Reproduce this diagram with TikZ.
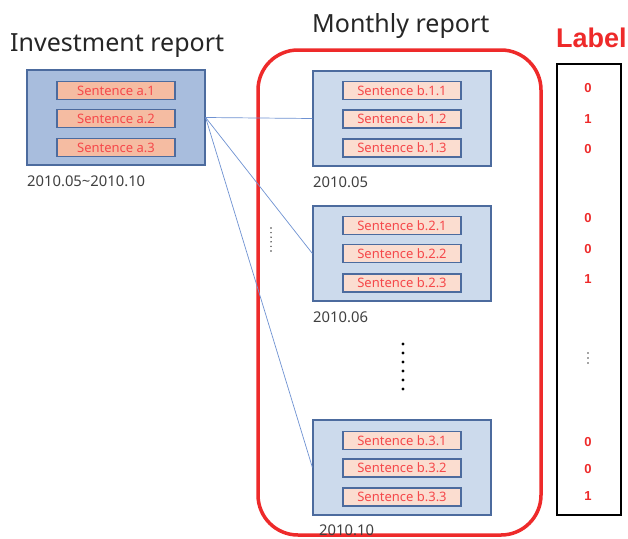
\documentclass[tikz,border=0pt]{standalone}
\usepackage{fontspec}
\setmainfont{Noto Sans}
\newfontfamily\labfont{Liberation Sans}
\definecolor{invfill}{HTML}{A8BDDD}
\definecolor{monfill}{HTML}{CCDAEC}
\definecolor{boxedge}{HTML}{4C6B9E}
\definecolor{safill}{HTML}{F5BCA2}
\definecolor{sbfill}{HTML}{FBDDD0}
\definecolor{stext}{HTML}{F5484A}
\definecolor{bigred}{HTML}{EE2A2A}
\definecolor{linkblue}{HTML}{6F92D2}
\definecolor{datecol}{HTML}{404040}
\begin{document}
\begin{tikzpicture}[x=1pt,y=-1pt,
  outerbox/.style={draw=boxedge,line width=1.2pt,minimum width=178pt,minimum height=95pt,inner sep=0pt},
  sentbox/.style={draw=boxedge,line width=1.4pt,minimum width=118pt,minimum height=18pt,inner sep=0pt,
    text=stext,font=\fontsize{13}{13}\selectfont},
  sa/.style={sentbox,fill=safill},
  sb/.style={sentbox,fill=sbfill},
  datelab/.style={anchor=base west,inner sep=0pt,text=datecol,font=\fontsize{14.8}{14.8}\selectfont},
  titlelab/.style={anchor=base west,inner sep=0pt,text=black!85,font=\fontsize{25}{25}\selectfont},
  labval/.style={inner sep=0pt,text=bigred,font=\labfont\bfseries\fontsize{13}{13}\selectfont},
  link/.style={draw=linkblue,line width=0.7pt}]
\useasboundingbox (0,0) rectangle (628,538);
\fill[white] (0,0) rectangle (628,538);

% titles
\node[titlelab] (tinv) at (10,51) {Investment report};
\node[titlelab] (tmon) at (312,32) {Monthly report};
\node[anchor=base west,inner sep=0pt,text=bigred,font=\labfont\bfseries\fontsize{27}{27}\selectfont] (tlab) at (556,47) {Label};

% red frame
\draw[bigred,line width=3.5pt,rounded corners=40pt] (258,50) rectangle (541,535);

% label column
\node[draw=black,line width=1.4pt,minimum width=64pt,minimum height=451pt,inner sep=0pt] (labbox) at (589,289.5) {};

% investment report
\node[outerbox,fill=invfill] (inv) at (116,117.5) {};
\node[sa] (a1) at (116,90.5) {Sentence a.1};
\node[sa] (a2) at (116,118.5) {Sentence a.2};
\node[sa] (a3) at (116,147.5) {Sentence a.3};
\node[datelab] (dinv) at (27,186) {2010.05\textasciitilde 2010.10};

% monthly reports
\node[outerbox,fill=monfill] (m1) at (402,118.5) {};
\node[sb] (b11) at (402,90.5) {Sentence b.1.1};
\node[sb] (b12) at (402,119) {Sentence b.1.2};
\node[sb] (b13) at (402,148) {Sentence b.1.3};
\node[datelab] (d1) at (313,187) {2010.05};

\node[outerbox,fill=monfill] (m2) at (402,253.5) {};
\node[sb] (b21) at (402,225.5) {Sentence b.2.1};
\node[sb] (b22) at (402,253.5) {Sentence b.2.2};
\node[sb] (b23) at (402,283) {Sentence b.2.3};
\node[datelab] (d2) at (313,322) {2010.06};

\node[outerbox,fill=monfill] (m3) at (402,467.5) {};
\node[sb] (b31) at (402,440.5) {Sentence b.3.1};
\node[sb] (b32) at (402,468) {Sentence b.3.2};
\node[sb] (b33) at (402,497) {Sentence b.3.3};
\node[datelab] (d3) at (319,535) {2010.10};

% links
\draw[link] (inv.east) -- (m1.west);
\draw[link] (inv.east) -- (m2.west);
\draw[link] (inv.east) -- (m3.west);

% dots
\foreach \k in {0,...,5} \fill[black] (403,344+9*\k) circle (1.6pt);
\foreach \k in {0,...,5} \fill[black!75] (271,228+4.6*\k) circle (0.8pt);
\foreach \k in {0,...,2} \fill[black!70] (588,353+5*\k) circle (0.8pt);

% label values
\node[labval] (v1) at (588,88) {0};
\node[labval] (v2) at (588,119) {1};
\node[labval] (v3) at (588,149) {0};
\node[labval] (v4) at (588,218) {0};
\node[labval] (v5) at (588,249) {0};
\node[labval] (v6) at (588,279) {1};
\node[labval] (v7) at (588,442) {0};
\node[labval] (v8) at (588,469) {0};
\node[labval] (v9) at (588,496) {1};
\end{tikzpicture}
\end{document}
